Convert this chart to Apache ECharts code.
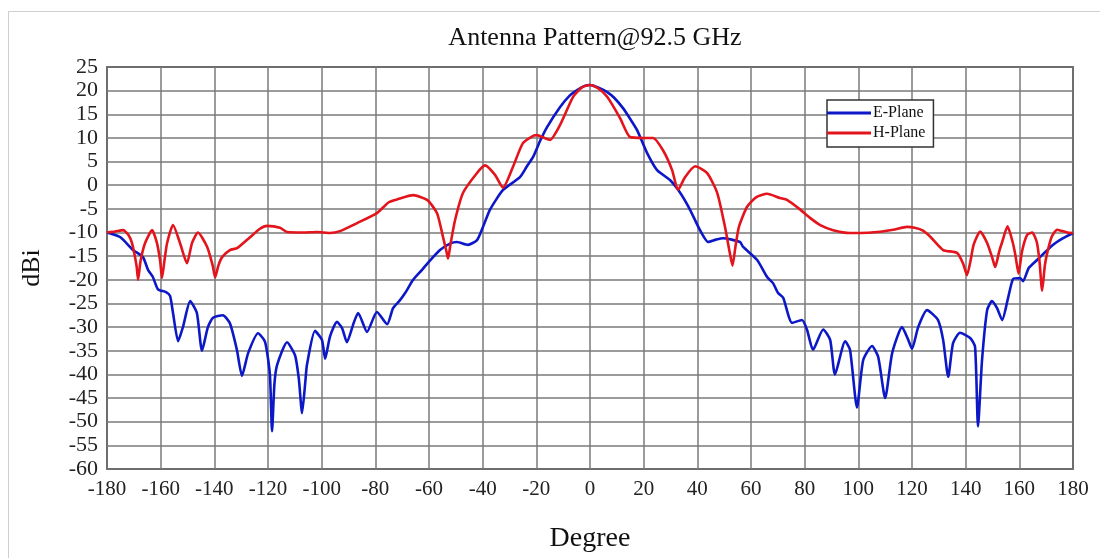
<!DOCTYPE html>
<html>
<head>
<meta charset="utf-8">
<script src="https://cdn.jsdelivr.net/npm/echarts@6/dist/echarts.min.js"></script>
<style>
html,body{margin:0;padding:0;background:#fff;}
#wrap{position:relative;width:1100px;height:558px;overflow:hidden;background:#fff;}
#frame{position:absolute;left:8px;top:11px;width:1200px;height:700px;border-left:1.5px solid #cfcfcf;border-top:1.5px solid #cfcfcf;}
#chart{position:absolute;left:0;top:0;width:1100px;height:558px;}
</style>
</head>
<body>
<div id="wrap"><div id="frame"></div><div id="chart"></div></div>
<script>
const titleText = 'Antenna Pattern@92.5 GHz';
const seriesNames = ['E-Plane', 'H-Plane'];
const xTicks = [-180,-160,-140,-120,-100,-80,-60,-40,-20,0,20,40,60,80,100,120,140,160,180];
const yTicks = [-60,-55,-50,-45,-40,-35,-30,-25,-20,-15,-10,-5,0,5,10,15,20,25];

const eDeg = [-180,-175,-170.3,-166.6,-164.7,-162.9,-161,-158,-156.5,-155.4,-153.5,-151.7,-149,-146.5,-144.6,-142.4,-140.5,-136.8,-134.2,-131.6,-129.7,-127.4,-123.7,-121.1,-119.3,-118.5,-117.6,-116.6,-112.9,-109.9,-108.5,-107.3,-106,-105.5,-102.5,-99.9,-98.7,-96.9,-94.3,-92.4,-90.6,-88,-86.4,-83.1,-79.4,-75.6,-73.4,-70.8,-68.9,-65.9,-62.6,-60.4,-55.9,-52,-49.6,-45.5,-42.1,-40,-37.3,-32.4,-26.1,-23.5,-21.2,-18.5,-16,-11.2,-7.5,-4.8,-2,0,3,6.4,9,12.3,15,17.5,21.3,25,29.8,33.6,37.3,41,44,47,49.6,55.9,57,62.3,66,68.2,70.1,72,75.3,79,80.9,83.1,86.9,89.5,91.3,95.1,96.9,99.5,101.8,105.1,107.4,110,112.6,116.3,118.6,120,122.3,125.6,129.7,131.6,133.5,135.3,137.9,141.7,143.5,144.6,146.1,148,149.8,151.7,153.6,155.9,157.7,160.3,161.4,163.5,166.6,172.6,176,180];
const eVal = [-10,-11,-13.7,-15.2,-17.9,-19.4,-22,-22.6,-23.4,-27,-33,-30,-24.5,-27,-35,-30,-28,-27.5,-29.2,-34.8,-40.3,-35.5,-31.3,-33.1,-40,-52,-42,-38,-33.2,-36,-41,-48.2,-41,-38,-30.8,-32.7,-36.7,-32,-28.9,-30.2,-33.2,-29,-27,-31,-26.8,-29.4,-26,-24.3,-22.8,-20,-17.9,-16.4,-13.7,-12.3,-12,-12.6,-11.6,-9,-5.2,-1,1.7,4,6,9.5,12.3,16.5,19,20.1,21,21.2,20.7,19.7,18.5,16.3,14,11.7,6.8,3.2,1.1,-1.6,-5.2,-9.5,-12,-11.5,-11.2,-12,-13,-15.8,-19.4,-20.7,-22.8,-23.8,-29.1,-28.5,-30.6,-34.8,-30.5,-32.7,-40,-33,-34.8,-47,-37,-34,-36.3,-45,-35.5,-30,-32.7,-34.6,-30,-26.4,-28.5,-32.7,-40.5,-33.4,-31.2,-32.3,-34.2,-51,-37,-26.4,-24.5,-26,-28.5,-23.6,-19.8,-19.6,-20.3,-17.5,-15.8,-12.6,-11.3,-10.1];

const hDeg = [-180,-177,-174,-172,-170.7,-169,-168.4,-167.5,-165.8,-163.2,-161.4,-160.2,-159.5,-158.6,-157.6,-155.4,-152.8,-150.2,-148.3,-146.1,-142.7,-140.6,-139.7,-138.5,-137.1,-134.2,-131.5,-126.7,-123,-120.4,-115.5,-112.9,-107,-101.7,-96.9,-93.2,-86.8,-79.4,-75,-71.9,-65.9,-60.7,-57,-54.8,-53.5,-52.9,-52,-50.3,-47.3,-42.1,-39.1,-35.4,-32.4,-28.7,-25,-21,-19.7,-17,-14.9,-11.2,-6.3,-3,0,3,6.4,11.2,14.9,19.8,23.5,27.2,30.6,32.8,35.4,39.2,43.6,47.4,50.3,52,53.1,54.2,55.5,58.5,62,66,70.8,73.4,78,82,86,90.6,96.9,100.7,107,113,118.2,121,124.1,127,131.6,136.8,139,140.5,141.8,143,145.4,148,150,151,152.5,153.6,155.6,157.5,158.6,159.7,161,162.9,164.8,166.5,167.5,168.5,169.5,170.4,172,174.1,177.8,180];
const hVal = [-10,-9.8,-9.5,-10.5,-12.2,-17,-20,-16,-12.2,-9.5,-12.2,-16,-19.6,-16,-12.2,-8.4,-12.2,-16.5,-12.2,-10,-13,-17,-19.5,-17,-15.2,-13.7,-13.3,-11,-9.2,-8.6,-9,-9.9,-10,-9.9,-10.1,-9.7,-8,-5.9,-3.6,-3,-2.1,-3.1,-5.9,-10.9,-14,-15.5,-12.5,-7.4,-1.6,2.6,4.2,2.2,-0.5,3.9,8.9,10.5,10.6,10,9.6,12.7,18.7,20.7,21.2,20.5,18.7,14.2,10.2,10,10,7.4,3.2,-1,1.7,4,2.6,-1.6,-8.8,-14,-17,-13,-8.8,-4.6,-2.5,-1.8,-2.7,-3.1,-5,-6.9,-8.5,-9.5,-10.1,-10.1,-9.9,-9.4,-8.8,-9,-9.6,-11,-13.7,-14.3,-16.5,-19,-16,-12.5,-9.8,-12.2,-15.5,-17.3,-14,-12,-8.7,-12,-15,-18.7,-14,-10.5,-10,-12,-16,-22.3,-17,-14.3,-11,-9.4,-10,-10.1];

const eData = eDeg.map((d, i) => [d, eVal[i]]);
const hData = hDeg.map((d, i) => [d, hVal[i]]);

const serif = 'Liberation Serif';
const chart = echarts.init(document.getElementById('chart'));
chart.setOption({
  animation: false,
  backgroundColor: 'transparent',
  title: {
    text: titleText,
    left: 590,
    textAlign: 'center',
    top: 20,
    textStyle: { fontFamily: serif, fontSize: 26, fontWeight: 'normal', color: '#111' }
  },
  legend: {
    orient: 'vertical',
    left: 827,
    top: 100,
    padding: [5, 8, 6, 0],
    itemGap: 4,
    itemWidth: 44,
    itemHeight: 3,
    icon: 'rect',
    backgroundColor: '#fff',
    borderColor: '#333',
    borderWidth: 1.5,
    textStyle: { fontFamily: serif, fontSize: 16, lineHeight: 16, color: '#111', padding: [0, 0, 0, -3] },
    data: seriesNames
  },
  grid: { left: 107, right: 27, top: 67, bottom: 89, show: true, borderColor: '#111', borderWidth: 1.5, backgroundColor: 'transparent' },
  xAxis: {
    type: 'value',
    min: xTicks[0], max: xTicks[xTicks.length - 1], interval: 20,
    name: 'Degree', nameLocation: 'middle', nameGap: 56,
    nameTextStyle: { fontFamily: serif, fontSize: 28, color: '#111' },
    axisLine: { show: false, onZero: false },
    axisTick: { show: false },
    axisLabel: { fontFamily: serif, fontSize: 21, color: '#222', margin: 10 },
    splitLine: { show: true, lineStyle: { color: '#7a7a7a', width: 1.5 } }
  },
  yAxis: {
    type: 'value',
    min: yTicks[0], max: yTicks[yTicks.length - 1], interval: 5,
    name: 'dBi', nameLocation: 'middle', nameGap: 62,
    nameTextStyle: { fontFamily: serif, fontSize: 26, color: '#111' },
    axisLine: { show: false, onZero: false },
    axisTick: { show: false },
    axisLabel: { fontFamily: serif, fontSize: 22, color: '#222', margin: 9 },
    splitLine: { show: true, lineStyle: { color: '#7a7a7a', width: 1.5 } }
  },
  series: [
    { name: seriesNames[0], type: 'line', data: eData, showSymbol: false, symbol: 'none',
      smooth: 0.2,
      lineStyle: { color: '#0c18c8', width: 2.6 }, itemStyle: { color: '#0c18c8' } },
    { name: seriesNames[1], type: 'line', data: hData, showSymbol: false, symbol: 'none',
      smooth: 0.2,
      lineStyle: { color: '#e3141c', width: 2.6 }, itemStyle: { color: '#e3141c' }, z: 3 }
  ]
});
</script>
</body>
</html>
